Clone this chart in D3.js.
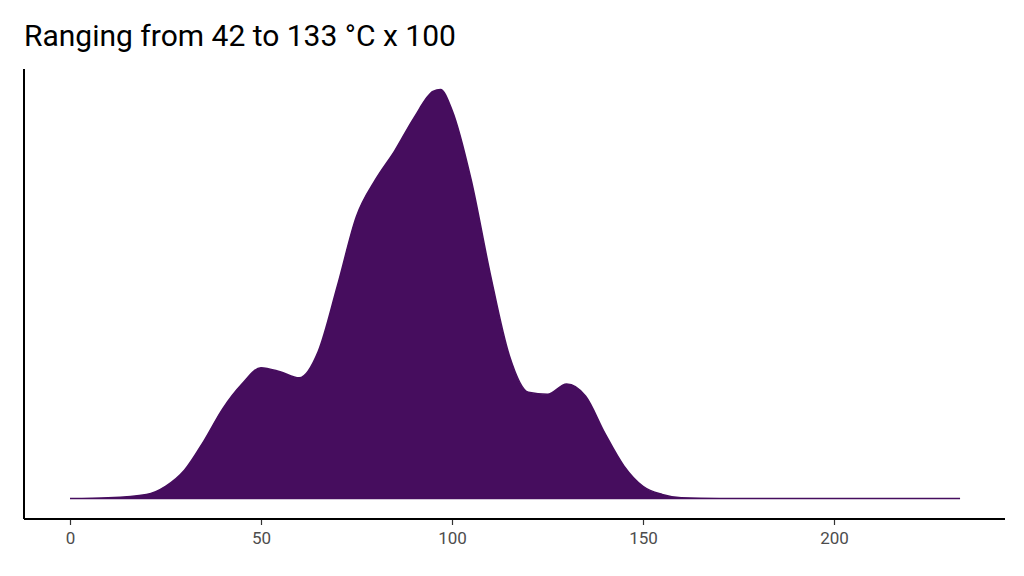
<!DOCTYPE html><html><head><meta charset="utf-8"><script src="https://cdn.jsdelivr.net/npm/d3@7"></script>
<style>body{margin:0;background:#fff}</style></head><body><svg id="c" width="1024" height="576"></svg>
<script>
const xs=[0,10,20,25,30,35,40,45,50,55,60,65,70,75,80,85,90,95,97,100,105,110,115,120,125,130,135,140,145,150,155,160,170,200,233];
const dens=[0,0.002,0.01,0.03,0.07,0.14,0.22,0.28,0.32,0.31,0.295,0.36,0.52,0.69,0.78,0.85,0.93,0.995,1.0,0.95,0.78,0.55,0.35,0.26,0.255,0.28,0.25,0.16,0.08,0.03,0.01,0.002,0,0,0];
const xTicks=[0,50,100,150,200];
const title="Ranging from 42 to 133 °C x 100";
const svg=d3.select("#c");
const x=d3.scaleLinear().domain([0,200]).range([70,834]);
const y=d3.scaleLinear().domain([-0.05,1.05]).range([519,69]);
const data=xs.map((v,i)=>[v,dens[i]]);
svg.append("path").datum(data).attr("fill","#460d5e").attr("stroke","#460d5e").attr("stroke-width",1.5)
 .attr("d",d3.area().x(d=>x(d[0])).y0(y(0)).y1(d=>y(d[1])).curve(d3.curveMonotoneX));
const ax=svg.append("g").attr("transform","translate(0,519)").call(d3.axisBottom(x).tickValues(xTicks).tickSize(6).tickSizeOuter(0));
ax.select(".domain").remove();
ax.selectAll("line").attr("stroke","#333").attr("stroke-width",1.2);
ax.selectAll("text").attr("fill","#4d4d4d").style("font-family","Roboto, Arial, sans-serif").style("font-size","17px").attr("dy","0.95em");
svg.append("line").attr("x1",24).attr("x2",1005).attr("y1",519).attr("y2",519).attr("stroke","#000").attr("stroke-width",2);
svg.append("line").attr("x1",24).attr("x2",24).attr("y1",69).attr("y2",519).attr("stroke","#000").attr("stroke-width",2);
svg.append("text").attr("x",24).attr("y",46).text(title).style("font-family","Roboto, Arial, sans-serif").style("font-size","30px").attr("fill","#000");
</script></body></html>
